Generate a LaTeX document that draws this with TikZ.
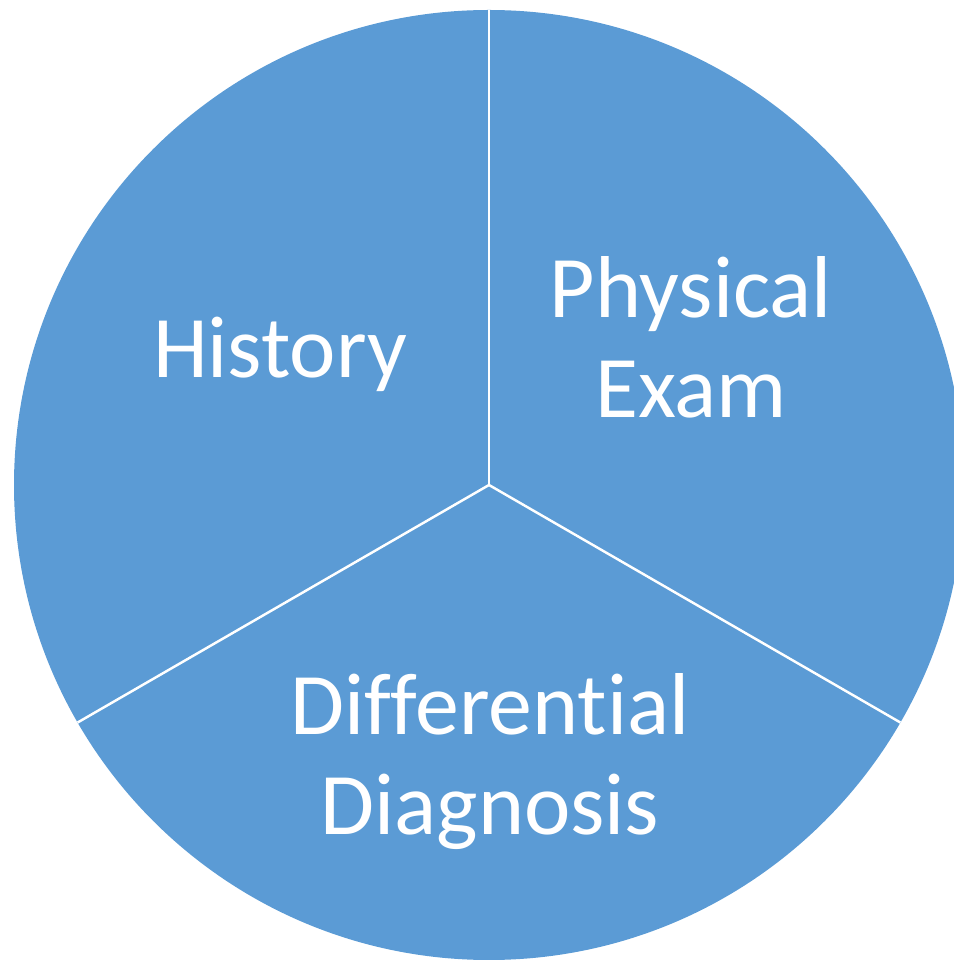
\documentclass[tikz,border=0pt]{standalone}
\usepackage{fontspec}
\setmainfont{Carlito}[Ligatures=NoCommon]
\definecolor{pieblue}{RGB}{91,155,213}
\tikzset{
  label/.style={text=white, font=\fontsize{50}{57}\selectfont, align=center, anchor=base, inner sep=0pt}
}
\begin{document}
\begin{tikzpicture}[x=0.02cm, y=0.02cm]
  \useasboundingbox (0,0) rectangle (954,961);
  \clip (0,0) rectangle (954,961);
  % Kreis mit drei Segmenten
  \coordinate (ctr) at (489,476);
  \fill[pieblue] (ctr) circle (475);
  \foreach \a in {90,210,330} {
    \draw[white, line width=1.4pt] (ctr) -- ++(\a:475);
  }
  % Beschriftung (base = letzte Zeile)
  \node[label] (history) at (280,583) {History};
  \node[label] (exam) at (691,543) {Physical\\Exam};
  \node[label] (diag) at (490,126) {Differential\\Diagnosis};
\end{tikzpicture}
\end{document}
